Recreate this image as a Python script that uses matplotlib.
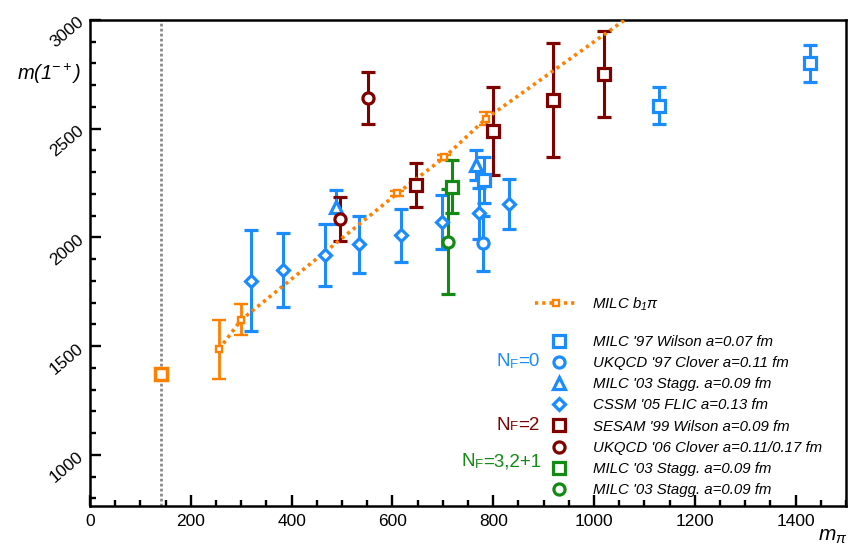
import matplotlib.pyplot as plt
from matplotlib.lines import Line2D
from matplotlib.ticker import MultipleLocator

plt.rcParams['font.family'] = ['Liberation Sans', 'DejaVu Sans']
plt.rcParams['mathtext.fontset'] = 'custom'
plt.rcParams['mathtext.rm'] = 'Liberation Sans:italic'
plt.rcParams['mathtext.it'] = 'Liberation Sans:italic'

blue = '#1a8cff'
maroon = '#800000'
green = '#138a13'
orange = '#ff8000'

# physical pion mass
m_pi_phys = 140

# MILC b1 pi threshold curve (last point is above the frame)
b1pi_x = [256, 300, 610, 703, 785, 1100]
b1pi_y = [1486, 1621, 2203, 2368, 2545, 3065]
b1pi_err = [136, 71, 12, 12, 30, 30]
b1pi_phys_x = [140]
b1pi_phys_y = [1372]

# N_F = 0
milc97_x = [782, 1129, 1428]
milc97_y = [2264, 2605, 2801]
milc97_err = [105, 85, 85]

ukqcd97_x = [779]
ukqcd97_y = [1973]
ukqcd97_err = [127]

milc03q_x = [489, 765]
milc03q_y = [2140, 2333]
milc03q_err = [80, 70]

cssm05_x = [319, 383, 466, 534, 618, 699, 772, 832]
cssm05_y = [1800, 1850, 1918, 1969, 2010, 2071, 2111, 2154]
cssm05_err = [232, 170, 143, 131, 121, 124, 117, 117]

# N_F = 2
sesam99_x = [646, 799, 918, 1020]
sesam99_y = [2241, 2491, 2632, 2752]
sesam99_err = [101, 203, 261, 199]

ukqcd06_x = [497, 551]
ukqcd06_y = [2085, 2641]
ukqcd06_err = [100, 120]

# N_F = 3, 2+1
milc03a_x = [719]
milc03a_y = [2234]
milc03a_err = [120]

milc03b_x = [711]
milc03b_y = [1981]
milc03b_err = [240]

W, H = 855, 547
fig = plt.figure(figsize=(W / 100, H / 100), dpi=100)
ax = fig.add_axes([90 / W, 1 - 506 / H, (846 - 90) / W, (506 - 20) / H])

ax.axvline(m_pi_phys, color='#8a8a8a', lw=2.0, ls=(0, (1.0, 0.8)), zorder=1)

dots = (0, (0.9, 1.1))
ax.errorbar(b1pi_x, b1pi_y, yerr=b1pi_err, color=orange, ls=dots, lw=2.6,
            marker='s', ms=5, mfc='white', mec=orange, mew=1.7,
            elinewidth=2.0, capsize=4.8, capthick=2.0, zorder=3)
ax.plot(b1pi_phys_x, b1pi_phys_y, ls='none', marker='s', ms=8.5, mfc='white',
        mec=orange, mew=2.5, zorder=4)


def series(x, y, err, color, marker, ms):
    ax.errorbar(x, y, yerr=err, ls='none', color=color, marker=marker, ms=ms,
                mfc='white', mec=color, mew=2.3, elinewidth=2.2,
                capsize=5, capthick=2.2, zorder=3)
    return Line2D([], [], ls='none', marker=marker, ms=ms, mfc='white',
                  mec=color, mew=2.3)


handles = [
    series(milc97_x, milc97_y, milc97_err, blue, 's', 8),
    series(ukqcd97_x, ukqcd97_y, ukqcd97_err, blue, 'o', 8),
    series(milc03q_x, milc03q_y, milc03q_err, blue, '^', 9),
    series(cssm05_x, cssm05_y, cssm05_err, blue, 'D', 6.5),
    series(sesam99_x, sesam99_y, sesam99_err, maroon, 's', 8),
    series(ukqcd06_x, ukqcd06_y, ukqcd06_err, maroon, 'o', 8),
    series(milc03a_x, milc03a_y, milc03a_err, green, 's', 8),
    series(milc03b_x, milc03b_y, milc03b_err, green, 'o', 8),
]
labels = [
    "MILC '97 Wilson a=0.07 fm",
    "UKQCD '97 Clover a=0.11 fm",
    "MILC '03 Stagg. a=0.09 fm",
    "CSSM '05 FLIC a=0.13 fm",
    "SESAM '99 Wilson a=0.09 fm",
    "UKQCD '06 Clover a=0.11/0.17 fm",
    "MILC '03 Stagg. a=0.09 fm",
    "MILC '03 Stagg. a=0.09 fm",
]

ax.set_xlim(0, 1500)
ax.set_ylim(765, 3000)
ax.set_xticks(range(0, 1401, 200))
ax.set_yticks([1000, 1500, 2000, 2500, 3000])
ax.xaxis.set_minor_locator(MultipleLocator(50))
ax.yaxis.set_minor_locator(MultipleLocator(100))
ax.tick_params(which='both', direction='in', top=False, right=False, width=1.7,
               labelsize=12.5)
ax.tick_params(which='major', length=8)
ax.tick_params(which='minor', length=4.5)
ax.tick_params(axis='x', pad=6)
ax.tick_params(axis='y', pad=6)
plt.setp(ax.get_yticklabels(), rotation=40, rotation_mode='anchor',
         ha='right', va='center')
for s in ax.spines.values():
    s.set_linewidth(1.8)

prop = dict(style='italic', size=10.8)
h_b1 = Line2D([], [], color=orange, ls=dots, lw=2.6, marker='s', ms=5,
              mfc='white', mec=orange, mew=1.7)
leg1 = ax.legend([h_b1], [r'MILC $b_1\pi$'], loc='center left',
                 bbox_to_anchor=(535 / W, 1 - 304 / H), bbox_transform=fig.transFigure,
                 frameon=False, prop=prop, borderpad=0, borderaxespad=0,
                 handlelength=2.8, handletextpad=1.0)
ax.add_artist(leg1)
ax.legend(handles, labels, loc='center left',
          bbox_to_anchor=(548.5 / W, 1 - 416 / H), bbox_transform=fig.transFigure,
          frameon=False, prop=prop, borderpad=0, borderaxespad=0,
          handlelength=1.4, handletextpad=1.55, labelspacing=0.48)


def nf_label(xr, yc, rest, color):
    t = fig.text(xr / W, 1 - yc / H, rest, ha='right', va='center',
                 fontsize=13.5, color=color)
    f = ax.annotate('F', xy=(0, 0), xycoords=t, ha='right', va='bottom',
                    fontsize=9.5, color=color, annotation_clip=False)
    ax.annotate('N', xy=(0, 0), xycoords=(f, t), ha='right', va='bottom',
                fontsize=13.5, color=color, annotation_clip=False)


nf_label(539, 362, '=0', blue)
nf_label(539, 425, '=2', maroon)
nf_label(541, 462, '=3,2+1', green)

fig.text(49 / W, 1 - 74 / H, r'$m(1^{-+})$', ha='center', va='center', fontsize=14.5)
fig.text(847 / W, 1 - 546 / H, r'$m_{\pi}$', ha='right', va='bottom', fontsize=15)

fig.savefig('out.png', dpi=100)
